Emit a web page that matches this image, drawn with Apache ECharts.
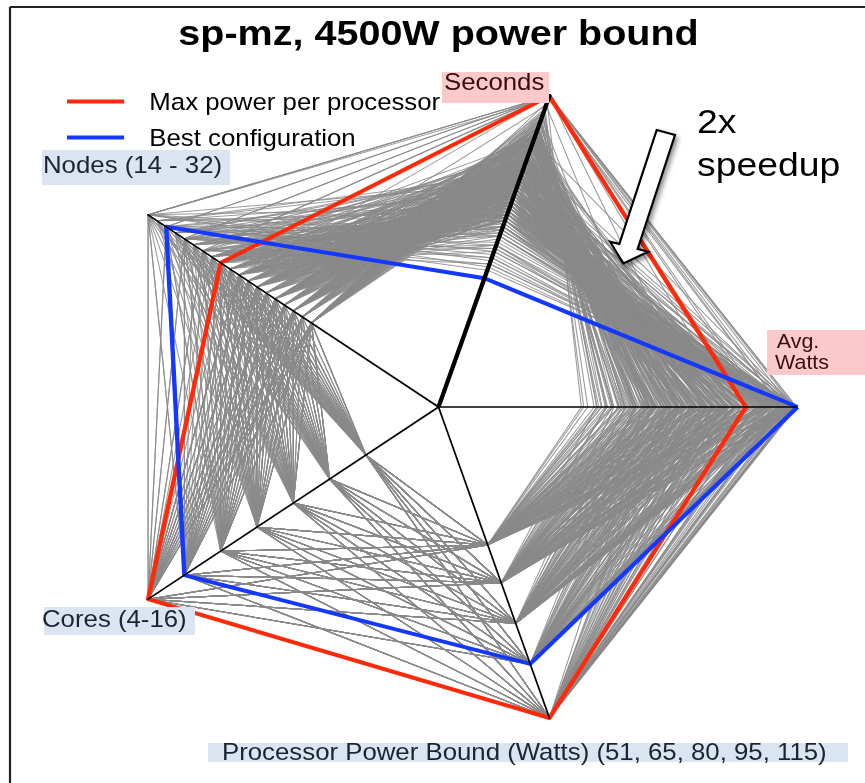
<!DOCTYPE html>
<html><head><meta charset="utf-8">
<script src="https://cdn.jsdelivr.net/npm/echarts@6/dist/echarts.min.js"></script>
<style>
html,body{margin:0;padding:0;background:#fff;overflow:hidden;width:865px;height:783px;}
#chart{position:absolute;left:0;top:0;width:788px;height:783px;transform:scaleX(1.0979);transform-origin:0 0;}
</style></head><body><div id="chart"></div>
<script>
// ---- data ----
const titleText = 'sp-mz, 4500W power bound';
const indicatorNames = ['Avg. Watts', 'Seconds', 'Nodes (14 - 32)', 'Cores (4-16)', 'Processor Power Bound (Watts) (51, 65, 80, 95, 115)'];
const indicatorMax = [4500, 100, 32, 16, 115];
const axisLabelTexts = ['Avg.', 'Watts', 'Seconds', 'Nodes (14 - 32)', 'Cores (4-16)', 'Processor Power Bound (Watts) (51, 65, 80, 95, 115)'];
const seriesNames = ['Max power per processor', 'Best configuration'];
const annotationLines = ['2x', 'speedup'];
// each run: [Avg. Watts, Seconds, Nodes, Cores, Power bound]
const maxPowerRun = [3850, 100, 24, 16, 115];
const bestRun = [4500, 41.4, 30, 14, 95];
const grayRuns = [
  [1790, 98, 14, 4, 51], [1950, 93, 14, 8, 51], [2120, 88, 14, 12, 51], [2260, 86, 14, 16, 51],
  [2050, 95, 16, 6, 51], [2380, 84, 16, 14, 51], [2330, 90, 18, 4, 51], [2560, 80, 18, 10, 51],
  [2700, 77, 18, 16, 51], [2580, 86, 20, 6, 51], [2790, 76, 20, 12, 51], [2900, 81, 22, 8, 51],
  [3120, 72, 22, 14, 51], [3020, 85, 24, 4, 51], [3300, 70, 24, 10, 51], [3520, 66, 24, 16, 51],
  [3380, 75, 26, 6, 51], [3650, 64, 26, 12, 51], [3600, 78, 28, 4, 51], [3880, 62, 28, 10, 51],
  [4040, 60, 28, 14, 51], [3990, 66, 30, 8, 51], [4260, 57, 30, 16, 51], [4150, 72, 32, 6, 51],
  [4430, 55, 32, 12, 51], [3300, 100, 32, 4, 51], [4100, 100, 32, 14, 51],
  [1820, 96, 15, 6, 51], [2010, 90, 15, 10, 51], [2180, 86, 15, 14, 51], [2090, 92, 17, 4, 51],
  [2290, 85, 17, 8, 51], [2480, 80, 17, 12, 51], [2650, 78, 17, 16, 51], [2410, 88, 19, 6, 51],
  [2630, 79, 19, 10, 51], [2840, 75, 19, 14, 51], [2650, 87, 21, 4, 51], [2880, 78, 21, 8, 51],
  [3100, 73, 21, 12, 51], [3310, 70, 21, 16, 51], [3050, 80, 23, 6, 51], [3290, 71, 23, 10, 51],
  [3530, 67, 23, 14, 51], [3200, 83, 25, 4, 51], [3460, 72, 25, 8, 51], [3720, 65, 25, 12, 51],
  [3950, 62, 25, 16, 51], [3600, 74, 27, 6, 51], [3890, 64, 27, 10, 51], [4150, 59, 27, 14, 51],
  [3740, 77, 29, 4, 51], [4050, 66, 29, 8, 51], [4330, 58, 29, 12, 51], [4100, 73, 31, 6, 51],
  [4420, 61, 31, 10, 51],
  [1870, 95, 14, 6, 51], [2040, 90, 14, 10, 51], [2190, 87, 14, 14, 51], [1990, 94, 16, 4, 51],
  [2160, 88, 16, 8, 51], [2270, 84, 16, 10, 51], [2440, 81, 16, 12, 51], [2520, 79, 16, 16, 51],
  [2420, 85, 18, 6, 51], [2480, 82, 18, 8, 51], [2640, 77, 18, 12, 51], [2610, 74, 18, 14, 51],
  [2450, 89, 20, 4, 51], [2690, 80, 20, 8, 51], [2740, 74, 20, 10, 51], [2930, 70, 20, 14, 51],
  [3010, 68, 20, 16, 51], [2760, 86, 22, 4, 51], [2860, 79, 22, 6, 51], [2980, 73, 22, 10, 51],
  [3060, 69, 22, 12, 51], [3240, 66, 22, 16, 51], [3140, 79, 24, 6, 51], [3230, 72, 24, 8, 51],
  [3420, 65, 24, 12, 51], [3460, 62, 24, 14, 51], [4120, 51, 28, 16, 51],
  [1980, 94, 14, 6, 65], [2250, 87, 14, 10, 65], [2400, 82, 14, 14, 65], [2300, 90, 16, 4, 65],
  [2560, 80, 16, 10, 65], [2720, 77, 16, 16, 65], [2640, 84, 18, 8, 65], [2880, 74, 18, 12, 65],
  [2800, 89, 20, 4, 65], [3060, 72, 20, 10, 65], [3250, 69, 20, 16, 65], [3210, 78, 22, 6, 65],
  [3450, 67, 22, 12, 65], [3480, 74, 24, 8, 65], [3720, 63, 24, 14, 65], [3600, 82, 26, 4, 65],
  [3900, 61, 26, 10, 65], [4100, 58, 26, 16, 65], [4020, 68, 28, 6, 65], [4310, 55, 28, 12, 65],
  [4380, 60, 30, 8, 65], [4490, 52, 30, 14, 65], [4470, 64, 32, 4, 65], [3900, 100, 30, 4, 65],
  [2100, 92, 15, 4, 65], [2360, 86, 15, 8, 65], [2600, 80, 15, 12, 65], [2790, 78, 15, 16, 65],
  [2480, 87, 17, 6, 65], [2740, 79, 17, 10, 65], [2980, 74, 17, 14, 65], [2620, 88, 19, 4, 65],
  [2920, 78, 19, 8, 65], [3190, 71, 19, 12, 65], [3420, 68, 19, 16, 65], [3060, 80, 21, 6, 65],
  [3380, 70, 21, 10, 65], [3650, 66, 21, 14, 65], [3180, 84, 23, 4, 65], [3540, 72, 23, 8, 65],
  [3860, 64, 23, 12, 65], [4120, 61, 23, 16, 65], [3630, 76, 25, 6, 65], [4010, 63, 25, 10, 65],
  [4300, 58, 25, 14, 65], [3750, 79, 27, 4, 65], [4150, 66, 27, 8, 65], [4480, 56, 27, 12, 65],
  [4200, 71, 29, 6, 65], [4470, 60, 29, 10, 65], [4300, 75, 31, 4, 65], [4410, 63, 31, 8, 65],
  [4050, 100, 30, 16, 65],
  [2110, 91, 14, 4, 65], [2180, 88, 14, 8, 65], [2320, 83, 14, 12, 65], [2470, 80, 14, 16, 65],
  [2440, 85, 16, 6, 65], [2600, 79, 16, 8, 65], [2680, 75, 16, 12, 65], [2700, 73, 16, 14, 65],
  [2540, 88, 18, 4, 65], [2730, 80, 18, 6, 65], [2860, 76, 18, 10, 65], [2990, 71, 18, 14, 65],
  [3080, 69, 18, 16, 65], [2990, 82, 20, 6, 65], [3020, 77, 20, 8, 65], [3180, 70, 20, 12, 65],
  [3220, 66, 20, 14, 65], [3010, 85, 22, 4, 65], [3350, 74, 22, 8, 65], [3390, 69, 22, 10, 65],
  [3560, 64, 22, 14, 65], [3620, 61, 22, 16, 65], [3330, 80, 24, 4, 65], [3420, 76, 24, 6, 65],
  [3560, 68, 24, 10, 65], [3660, 65, 24, 12, 65], [3780, 60, 24, 16, 65], [4280, 47, 32, 14, 65],
  [4180, 49, 30, 12, 65], [4350, 45, 32, 16, 65], [4060, 52, 26, 16, 65],
  [2200, 92, 14, 4, 80], [2480, 84, 14, 8, 80], [2690, 79, 14, 12, 80], [2820, 76, 14, 16, 80],
  [2620, 86, 16, 6, 80], [2900, 74, 16, 12, 80], [2860, 88, 18, 4, 80], [3150, 71, 18, 10, 80],
  [3330, 68, 18, 14, 80], [3220, 79, 20, 6, 80], [3560, 65, 20, 12, 80], [3600, 73, 22, 8, 80],
  [3880, 62, 22, 14, 80], [3700, 84, 24, 4, 80], [4060, 59, 24, 10, 80], [4300, 56, 24, 16, 80],
  [4180, 66, 26, 6, 80], [4450, 51, 26, 12, 80], [4420, 62, 28, 8, 80], [4360, 48, 28, 14, 80],
  [4480, 70, 30, 4, 80], [4300, 99, 32, 16, 80], [4350, 100, 32, 10, 80],
  [2340, 89, 15, 6, 80], [2640, 81, 15, 10, 80], [2900, 76, 15, 14, 80], [2500, 90, 17, 4, 80],
  [2830, 80, 17, 8, 80], [3120, 73, 17, 12, 80], [3360, 70, 17, 16, 80], [3000, 82, 19, 6, 80],
  [3350, 72, 19, 10, 80], [3640, 66, 19, 14, 80], [3150, 85, 21, 4, 80], [3530, 74, 21, 8, 80],
  [3880, 66, 21, 12, 80], [4150, 62, 21, 16, 80], [3700, 75, 23, 6, 80], [4100, 63, 23, 10, 80],
  [4400, 58, 23, 14, 80], [3800, 80, 25, 4, 80], [4240, 67, 25, 8, 80], [4280, 55, 25, 12, 80],
  [4330, 60, 27, 10, 80], [4300, 71, 27, 6, 80], [4440, 76, 29, 4, 80], [4390, 68, 31, 6, 80],
  [2340, 88, 14, 6, 80], [2560, 82, 14, 10, 80], [2720, 77, 14, 14, 80], [2480, 90, 16, 4, 80],
  [2700, 82, 16, 8, 80], [2800, 78, 16, 10, 80], [2990, 72, 16, 14, 80], [3060, 70, 16, 16, 80],
  [2960, 81, 18, 6, 80], [3050, 77, 18, 8, 80], [3280, 69, 18, 12, 80], [3430, 66, 18, 16, 80],
  [3020, 86, 20, 4, 80], [3380, 74, 20, 8, 80], [3470, 69, 20, 10, 80], [3610, 63, 20, 14, 80],
  [3700, 60, 20, 16, 80], [3320, 83, 22, 4, 80], [3480, 77, 22, 6, 80], [3720, 67, 22, 10, 80],
  [3810, 63, 22, 12, 80], [3930, 58, 22, 16, 80], [4230, 48, 30, 10, 80], [4330, 50, 32, 8, 80],
  [2450, 90, 14, 6, 95], [2760, 81, 14, 10, 95], [2950, 77, 14, 14, 95], [2700, 93, 16, 4, 95],
  [3080, 74, 16, 10, 95], [3290, 70, 16, 16, 95], [3180, 80, 18, 6, 95], [3520, 67, 18, 12, 95],
  [3440, 76, 20, 8, 95], [3800, 62, 20, 14, 95], [3580, 86, 22, 4, 95], [3980, 60, 22, 10, 95],
  [4200, 55, 22, 16, 95], [4080, 69, 24, 6, 95], [4390, 50, 24, 12, 95], [4420, 63, 26, 8, 95],
  [4440, 46, 26, 14, 95], [4460, 74, 28, 4, 95], [4490, 53, 28, 10, 95], [4470, 44, 30, 12, 95],
  [3700, 100, 28, 16, 95], [4390, 46, 28, 12, 95],
  [2580, 91, 15, 4, 95], [2930, 82, 15, 8, 95], [3240, 75, 15, 12, 95], [3450, 73, 15, 16, 95],
  [3100, 83, 17, 6, 95], [3450, 73, 17, 10, 95], [3730, 69, 17, 14, 95], [3230, 85, 19, 4, 95],
  [3630, 74, 19, 8, 95], [3990, 65, 19, 12, 95], [4250, 62, 19, 16, 95], [3760, 76, 21, 6, 95],
  [4170, 64, 21, 10, 95], [4480, 57, 21, 14, 95], [3900, 79, 23, 4, 95], [4330, 66, 23, 8, 95],
  [4250, 52, 23, 12, 95], [4400, 72, 25, 6, 95], [4310, 58, 25, 10, 95], [4490, 77, 27, 4, 95],
  [4360, 62, 27, 8, 95], [4420, 67, 29, 6, 95],
  [2580, 92, 14, 4, 95], [2660, 84, 14, 8, 95], [2860, 79, 14, 12, 95], [3010, 75, 14, 16, 95],
  [2920, 83, 16, 6, 95], [3000, 78, 16, 8, 95], [3160, 72, 16, 12, 95], [3220, 69, 16, 14, 95],
  [3050, 87, 18, 4, 95], [3350, 75, 18, 8, 95], [3440, 71, 18, 10, 95], [3610, 65, 18, 14, 95],
  [3690, 63, 18, 16, 95], [3300, 83, 20, 6, 95], [3580, 70, 20, 10, 95], [3700, 66, 20, 12, 95],
  [3860, 60, 20, 16, 95],
  [2650, 89, 14, 4, 115], [3020, 79, 14, 8, 115], [3280, 74, 14, 12, 115], [3420, 72, 14, 16, 115],
  [3180, 84, 16, 6, 115], [3560, 70, 16, 12, 115], [3500, 87, 18, 4, 115], [3880, 66, 18, 10, 115],
  [4080, 63, 18, 14, 115], [3960, 76, 20, 6, 115], [4330, 58, 20, 12, 115], [4400, 68, 22, 8, 115],
  [4380, 54, 22, 14, 115], [4470, 80, 24, 4, 115], [4290, 57, 24, 10, 115], [4490, 100, 26, 6, 115],
  [4460, 100, 28, 8, 115], [2900, 97, 20, 16, 115],
  [2860, 86, 15, 6, 115], [3250, 77, 15, 10, 115], [3560, 72, 15, 14, 115], [3080, 88, 17, 4, 115],
  [3480, 77, 17, 8, 115], [3850, 69, 17, 12, 115], [4100, 66, 17, 16, 115], [3680, 80, 19, 6, 115],
  [4120, 68, 19, 10, 115], [4450, 62, 19, 14, 115], [3830, 84, 21, 4, 115], [4300, 71, 21, 8, 115],
  [4230, 60, 21, 12, 115], [4450, 74, 23, 6, 115], [4270, 64, 23, 10, 115], [4480, 86, 25, 4, 115],
  [4420, 100, 24, 12, 115], [4480, 100, 26, 10, 115], [4300, 100, 22, 16, 115],
  [2830, 86, 14, 6, 115], [3150, 77, 14, 10, 115], [3360, 73, 14, 14, 115], [2980, 88, 16, 4, 115],
  [3340, 77, 16, 8, 115], [3450, 73, 16, 10, 115], [3640, 68, 16, 14, 115], [3710, 66, 16, 16, 115],
  [3360, 82, 18, 6, 115], [3640, 72, 18, 8, 115], [3960, 64, 18, 12, 115], [4140, 61, 18, 16, 115],
  [3780, 79, 20, 4, 115], [4080, 70, 20, 8, 115], [4190, 65, 20, 10, 115], [4290, 60, 20, 14, 115]
];

// ---- layout helpers (the reference figure is stretched horizontally) ----
const S = 359 / 327;
const X = v => v / S;
const FONT = '"Liberation Sans", Arial, Helvetica, sans-serif';
const labelFont = '23.5px ' + FONT;
const blueBox = '#dbe5f1', pinkBox = '#fbc9c9';
const blueText = '#1b2430', pinkText = '#3a0d0d';

const chart = echarts.init(document.getElementById('chart'), null, {renderer: 'svg', width: 788, height: 783});

const arrowPts = [[656.7,130],[675,135],[637.6,249],[648.3,251.7],[623.3,263.3],[610,241.7],[619.3,244]]
  .map(p => [X(p[0]), p[1]]);

function box(x0, y0, x1, y1, fill) {
  return {type: 'rect', z: 10, silent: true, shape: {x: X(x0), y: y0, width: X(x1) - X(x0), height: y1 - y0}, style: {fill: fill}};
}
function label(text, x, y, fill, align, font) {
  return {type: 'text', z: 11, silent: true, x: X(x), y: y,
    style: {text: text, font: font || labelFont, fill: fill, align: align || 'left', verticalAlign: 'middle'}};
}

const option = {
  animation: false,
  backgroundColor: '#fff',
  legend: {
    data: seriesNames, orient: 'vertical', left: X(67), top: 89.5, padding: 0, itemGap: 12,
    itemWidth: 52, itemHeight: 4, icon: 'rect', selectedMode: false,
    textStyle: {fontSize: 23.5, color: '#000', fontFamily: FONT, padding: [0, 0, 0, 18]}
  },
  radar: {
    center: [X(438.5), 407], radius: 327, startAngle: 0, shape: 'polygon', silent: true,
    indicator: indicatorNames.map((n, i) => ({name: n, min: 0, max: indicatorMax[i]})),
    axisName: {show: false}, axisLine: {show: false}, splitLine: {show: false},
    splitArea: {show: false}, axisTick: {show: false}, axisLabel: {show: false}
  },
  series: [
    {type: 'radar', name: 'All configurations', z: 2, silent: true, symbol: 'none',
     lineStyle: {color: '#8a8a8a', width: 1, opacity: 0.85}, itemStyle: {color: '#8a8a8a'},
     data: grayRuns.map(v => ({value: v}))},
    {type: 'radar', name: seriesNames[0], z: 3, silent: true, symbol: 'none',
     lineStyle: {color: '#ff2a0a', width: 4}, itemStyle: {color: '#ff2a0a'},
     data: [{value: maxPowerRun}]},
    {type: 'radar', name: seriesNames[1], z: 4, silent: true, symbol: 'none',
     lineStyle: {color: '#1438ff', width: 4}, itemStyle: {color: '#1438ff'},
     data: [{value: bestRun}]},
    {type: 'radar', name: 'axes', z: 5, silent: true, symbol: 'none',
     itemStyle: {color: '#000'},
     data: indicatorMax.map((m, i) => ({
       value: indicatorMax.map((mm, j) => j === i ? mm : 0),
       lineStyle: {color: '#000', width: i === 1 ? 4 : 1.6}
     }))}
  ],
  graphic: [
    {type: 'line', z: 12, silent: true, shape: {x1: X(10), y1: 7, x2: X(865), y2: 7}, style: {stroke: '#222', lineWidth: 2}},
    {type: 'line', z: 12, silent: true, shape: {x1: X(10), y1: 7, x2: X(10), y2: 783}, style: {stroke: '#222', lineWidth: 2}},
    {type: 'text', z: 11, silent: true, x: X(438.5), y: 32.5,
     style: {text: titleText, font: 'bold 36px ' + FONT, fill: '#000', align: 'center', verticalAlign: 'middle'}},
    box(42, 150, 230, 185, blueBox), label(axisLabelTexts[3], 43, 165, blueText),
    box(442, 72, 549, 103, pinkBox), label(axisLabelTexts[2], 444, 82, pinkText),
    box(767, 330, 865, 375, pinkBox),
    label(axisLabelTexts[0], 798, 340.5, pinkText, 'center', '19.5px ' + FONT),
    label(axisLabelTexts[1], 802, 361.5, pinkText, 'center', '19.5px ' + FONT),
    box(44, 607, 195, 635, blueBox), label(axisLabelTexts[4], 42, 619, blueText),
    box(208, 743, 848, 762, blueBox), label(axisLabelTexts[5], 222, 752, blueText),
    {type: 'text', z: 11, silent: true, x: X(697), y: 121.5,
     style: {text: annotationLines[0], font: '34px ' + FONT, fill: '#000', align: 'left', verticalAlign: 'middle'}},
    {type: 'text', z: 11, silent: true, x: X(697), y: 165,
     style: {text: annotationLines[1], font: '34px ' + FONT, fill: '#000', align: 'left', verticalAlign: 'middle'}},
    {type: 'polygon', z: 13, silent: true, shape: {points: arrowPts},
     style: {fill: '#fff', stroke: '#000', lineWidth: 2, shadowBlur: 5, shadowColor: 'rgba(0,0,0,0.45)', shadowOffsetX: 2, shadowOffsetY: 3}}
  ]
};
chart.setOption(option);
</script></body></html>
